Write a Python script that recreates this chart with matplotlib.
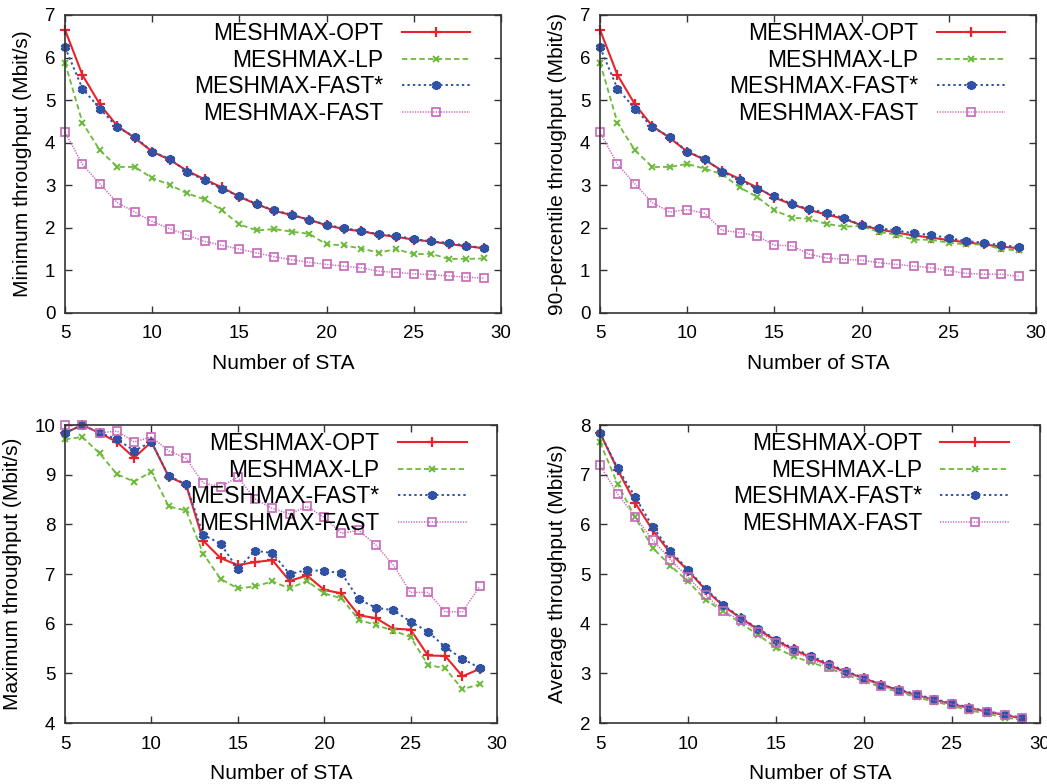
import matplotlib
matplotlib.use("Agg")
import matplotlib.pyplot as plt

plt.rcParams['font.family'] = ['Liberation Sans', 'DejaVu Sans']

sta = list(range(5, 30))
names = ["MESHMAX-OPT", "MESHMAX-LP", "MESHMAX-FAST*", "MESHMAX-FAST"]

# minimum throughput
min_opt = [6.65, 5.59, 4.90, 4.39, 4.11, 3.79, 3.60, 3.34, 3.14, 2.95, 2.73, 2.55, 2.40,
           2.30, 2.19, 2.06, 1.97, 1.92, 1.84, 1.79, 1.72, 1.68, 1.62, 1.57, 1.52]
min_lp = [5.88, 4.47, 3.82, 3.43, 3.43, 3.17, 3.01, 2.81, 2.67, 2.41, 2.08, 1.94, 1.97,
          1.91, 1.86, 1.61, 1.59, 1.51, 1.42, 1.50, 1.38, 1.39, 1.27, 1.27, 1.28]
min_fs = [6.24, 5.27, 4.80, 4.36, 4.14, 3.79, 3.62, 3.32, 3.12, 2.92, 2.74, 2.56, 2.41,
          2.31, 2.19, 2.07, 1.99, 1.93, 1.85, 1.81, 1.74, 1.68, 1.65, 1.58, 1.53]
min_fast = [4.25, 3.49, 3.03, 2.59, 2.37, 2.15, 1.98, 1.83, 1.68, 1.59, 1.50, 1.41, 1.32,
            1.25, 1.19, 1.14, 1.10, 1.06, 0.98, 0.95, 0.92, 0.90, 0.87, 0.84, 0.82]

# 90-percentile throughput
p90_opt = [6.65, 5.59, 4.90, 4.39, 4.11, 3.79, 3.60, 3.34, 3.15, 2.95, 2.71, 2.55, 2.42,
           2.31, 2.21, 2.06, 1.96, 1.89, 1.82, 1.77, 1.71, 1.66, 1.61, 1.56, 1.52]
p90_lp = [5.88, 4.47, 3.82, 3.43, 3.43, 3.50, 3.39, 3.26, 2.95, 2.73, 2.41, 2.24, 2.21,
          2.09, 2.03, 2.04, 1.90, 1.84, 1.72, 1.72, 1.65, 1.61, 1.61, 1.50, 1.47]
p90_fs = [6.24, 5.27, 4.80, 4.36, 4.14, 3.79, 3.62, 3.32, 3.12, 2.92, 2.74, 2.56, 2.44,
          2.35, 2.23, 2.06, 1.99, 1.94, 1.87, 1.83, 1.76, 1.69, 1.65, 1.59, 1.55]
p90_fast = [4.25, 3.49, 3.03, 2.59, 2.37, 2.43, 2.34, 1.94, 1.89, 1.81, 1.59, 1.58, 1.38,
            1.29, 1.26, 1.24, 1.18, 1.14, 1.10, 1.06, 0.99, 0.93, 0.91, 0.91, 0.86]

# maximum throughput
max_opt = [9.84, 10.0, 9.84, 9.66, 9.34, 9.66, 8.96, 8.80, 7.67, 7.32, 7.18, 7.24, 7.28,
           6.86, 6.97, 6.68, 6.61, 6.17, 6.11, 5.90, 5.88, 5.36, 5.35, 4.94, 5.09]
max_lp = [9.71, 9.76, 9.43, 9.01, 8.86, 9.06, 8.36, 8.28, 7.41, 6.90, 6.71, 6.75, 6.85,
          6.71, 6.86, 6.61, 6.51, 6.08, 5.97, 5.86, 5.73, 5.17, 5.10, 4.68, 4.78]
max_fs = [9.84, 10.0, 9.84, 9.72, 9.48, 9.66, 8.97, 8.81, 7.79, 7.61, 7.10, 7.47, 7.42,
          7.00, 7.08, 7.06, 7.02, 6.49, 6.32, 6.27, 6.04, 5.84, 5.53, 5.29, 5.11]
max_fast = [10.0, 10.0, 9.84, 9.88, 9.66, 9.76, 9.48, 9.33, 8.83, 8.76, 8.95, 8.51, 8.32,
            8.21, 8.36, 8.14, 7.82, 7.88, 7.58, 7.18, 6.63, 6.63, 6.24, 6.24, 6.75]

# average throughput
avg_opt = [7.84, 7.10, 6.43, 5.88, 5.42, 5.07, 4.68, 4.36, 4.11, 3.88, 3.66, 3.48, 3.32,
           3.17, 3.02, 2.90, 2.77, 2.66, 2.56, 2.47, 2.38, 2.30, 2.23, 2.16, 2.09]
avg_lp = [7.65, 6.81, 6.14, 5.52, 5.17, 4.85, 4.48, 4.25, 4.01, 3.77, 3.52, 3.34, 3.22,
          3.10, 2.97, 2.84, 2.72, 2.62, 2.52, 2.43, 2.35, 2.25, 2.19, 2.11, 2.06]
avg_fs = [7.84, 7.13, 6.55, 5.95, 5.46, 5.09, 4.70, 4.38, 4.12, 3.90, 3.68, 3.50, 3.35,
          3.19, 3.04, 2.91, 2.77, 2.67, 2.58, 2.48, 2.40, 2.31, 2.24, 2.17, 2.11]
avg_fast = [7.19, 6.61, 6.15, 5.68, 5.29, 4.93, 4.58, 4.25, 4.07, 3.84, 3.62, 3.44, 3.29,
            3.13, 3.00, 2.89, 2.74, 2.64, 2.56, 2.46, 2.38, 2.29, 2.23, 2.17, 2.10]

styles = [
    dict(color="#e8232b", ls="-", lw=1.5, marker="+", ms=6.5, mew=1.6),
    dict(color="#6cba3a", ls=(0, (3, 1.8)), lw=1.3, marker="x", ms=5, mew=1.4),
    dict(color="#2f52a5", ls=(0, (1.2, 1.6)), lw=1.4, marker=(6, 2, 0), ms=6.5, mew=2.4),
    dict(color="#c467b6", ls=(0, (0.8, 0.9)), lw=1.1, marker="s", ms=5.2, mew=1.2,
         fillstyle="none"),
]

panels = [
    ([0.0621, 0.6008, 0.4164, 0.3801], [min_opt, min_lp, min_fs, min_fast],
     "Minimum throughput (Mbit/s)", (0, 7)),
    ([0.5731, 0.6008, 0.4164, 0.3801], [p90_opt, p90_lp, p90_fs, p90_fast],
     "90-percentile throughput (Mbit/s)", (0, 7)),
    ([0.0621, 0.0778, 0.4126, 0.3801], [max_opt, max_lp, max_fs, max_fast],
     "Maximum throughput (Mbit/s)", (4, 10)),
    ([0.5731, 0.0778, 0.4200, 0.3801], [avg_opt, avg_lp, avg_fs, avg_fast],
     "Average throughput (Mbit/s)", (2, 8)),
]

fig = plt.figure(figsize=(10.47, 7.84), dpi=100)

for rect, series, ylabel, ylim in panels:
    ax = fig.add_axes(rect)
    for name, vals, st in zip(names, series, styles):
        ax.plot(sta, vals, label=name, clip_on=False, **st)
    ax.set_xlim(5, 30)
    ax.set_ylim(*ylim)
    ax.set_xticks(range(5, 31, 5))
    ax.set_yticks(range(ylim[0], ylim[1] + 1))
    ax.tick_params(direction="in", top=True, right=True, length=5, width=1,
                   labelsize=13.5, color="#333333")
    ax.tick_params(axis="x", pad=9)
    ax.tick_params(axis="y", pad=7)
    for sp in ax.spines.values():
        sp.set_color("#333333")
        sp.set_linewidth(1.2)
    ax.set_xlabel("Number of STA", fontsize=15, labelpad=8)
    ax.set_ylabel(ylabel, fontsize=15, labelpad=9)
    ax.legend(loc="upper right", bbox_to_anchor=(0.93, 0.975), frameon=False,
              markerfirst=False, fontsize=16.5, handlelength=3.0, handletextpad=0.8,
              labelspacing=0.15, borderpad=0, borderaxespad=0, numpoints=1)

fig.savefig("out.png", dpi=100)
